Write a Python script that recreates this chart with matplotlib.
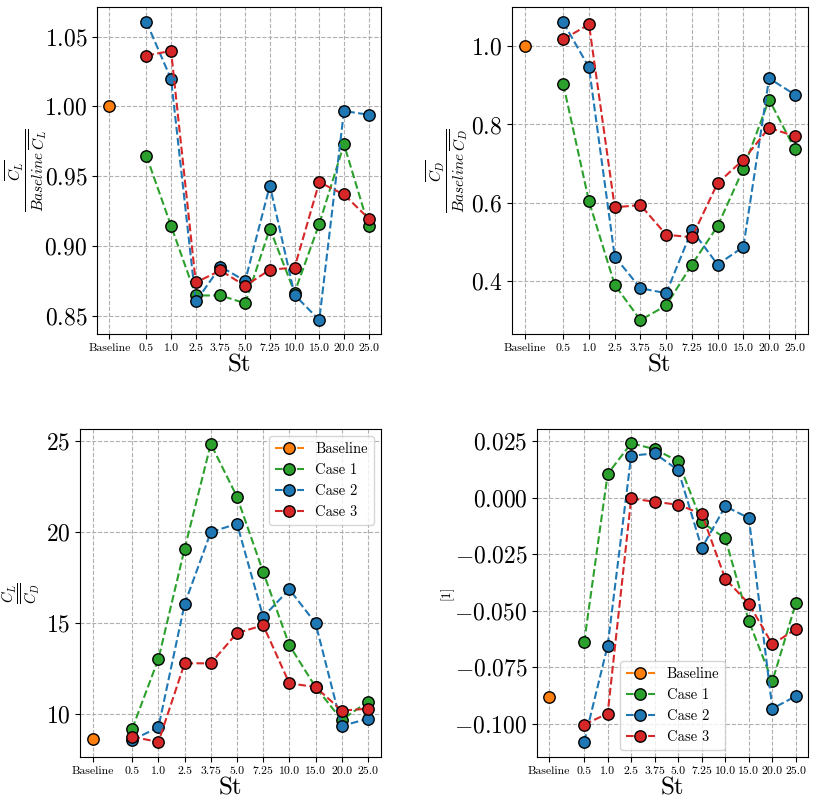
import matplotlib
matplotlib.use("Agg")
import matplotlib.pyplot as plt
import numpy as np

plt.rcParams['font.family'] = 'serif'
plt.rcParams['font.serif'] = ['cmr10']
plt.rcParams['mathtext.fontset'] = 'cm'
plt.rcParams['axes.formatter.use_mathtext'] = True

st_labels = ['Baseline', '0.5', '1.0', '2.5', '3.75', '5.0', '7.25', '10.0', '15.0', '20.0', '25.0']
case_names = ['Case 1', 'Case 2', 'Case 3']
case_colors = ['tab:green', 'tab:blue', 'tab:red']

# CL / baseline CL
cl_base = 1.0
cl_case1 = [0.9646, 0.9144, 0.8646, 0.8646, 0.8590, 0.9125, 0.8667, 0.9159, 0.9729, 0.9142]
cl_case2 = [1.0605, 1.0195, 0.8603, 0.8853, 0.8750, 0.9433, 0.8650, 0.8470, 0.9967, 0.9940]
cl_case3 = [1.0364, 1.0397, 0.8739, 0.8825, 0.8715, 0.8830, 0.8846, 0.9457, 0.9369, 0.9197]

# CD / baseline CD
cd_base = 1.0
cd_case1 = [0.903, 0.6034, 0.3898, 0.2996, 0.337, 0.4417, 0.540, 0.6868, 0.8638, 0.737]
cd_case2 = [1.061, 0.946, 0.462, 0.381, 0.3685, 0.530, 0.4417, 0.4868, 0.918, 0.8766]
cd_case3 = [1.0179, 1.056, 0.588, 0.594, 0.518, 0.5115, 0.650, 0.7098, 0.7915, 0.770]

# CL / CD
ld_base = 8.63
ld_case1 = [9.21, 13.04, 19.09, 24.84, 21.94, 17.81, 13.79, 11.50, 9.69, 10.70]
ld_case2 = [8.59, 9.29, 16.05, 20.00, 20.46, 15.35, 16.86, 15.00, 9.36, 9.76]
ld_case3 = [8.77, 8.48, 12.80, 12.80, 14.46, 14.89, 11.70, 11.50, 10.20, 10.31]

# fourth quantity
q_base = -0.088
q_case1 = [-0.0640, 0.0105, 0.0241, 0.0215, 0.0161, -0.0108, -0.0180, -0.0546, -0.0812, -0.0466]
q_case2 = [-0.1080, -0.0654, 0.0186, 0.0196, 0.0122, -0.0223, -0.0038, -0.0090, -0.0933, -0.0878]
q_case3 = [-0.1004, -0.0955, -0.0003, -0.0018, -0.0031, -0.0072, -0.0359, -0.0469, -0.0649, -0.0581]

x_base = 0.0
x_cases = np.arange(10) + 1.5
x_ticks = np.concatenate([[x_base], x_cases])

fig = plt.figure(figsize=(8.15, 8.01), dpi=100)
ax1 = fig.add_axes([0.119, 0.583, 0.3485, 0.408])
ax2 = fig.add_axes([0.628, 0.583, 0.363, 0.408])
ax3 = fig.add_axes([0.098, 0.055, 0.3695, 0.4094])
ax4 = fig.add_axes([0.659, 0.055, 0.332, 0.4094])

panels = [
    (ax1, cl_base, [cl_case1, cl_case2, cl_case3],
     r'$\dfrac{\overline{C_L}}{Baseline\,\overline{C_L}}$', -0.17, 11, None,
     [0.85, 0.90, 0.95, 1.00, 1.05], '%.2f'),
    (ax2, cd_base, [cd_case1, cd_case2, cd_case3],
     r'$\dfrac{\overline{C_D}}{Baseline\,\overline{C_D}}$', -0.142, 11, None,
     [0.4, 0.6, 0.8, 1.0], '%.1f'),
    (ax3, ld_base, [ld_case1, ld_case2, ld_case3],
     r'$\dfrac{\overline{C_L}}{\overline{C_D}}$', -0.125, 10.5, 'upper right',
     [10, 15, 20, 25], '%d'),
    (ax4, q_base, [q_case1, q_case2, q_case3],
     '[1]', -0.31, 10, 'lower center',
     [-0.1, -0.075, -0.05, -0.025, 0.0, 0.025], '%.3f'),
]

for ax, base, cases, ylab, labx, labsize, legloc, yt, fmt in panels:
    ax.plot([x_base], [base], '--o', color='tab:orange', markersize=8.2,
            markeredgecolor='black', label='Baseline', zorder=3)
    for vals, name, col in zip(cases, case_names, case_colors):
        ax.plot(x_cases, vals, '--o', color=col, markersize=8.2,
                markeredgecolor='black', label=name, zorder=3)
    ax.set_xticks(x_ticks)
    ax.set_xticklabels(st_labels, fontsize=8.5)
    ax.set_xlim(-0.5, 11.0)
    ax.set_yticks(yt)
    ax.set_yticklabels(['$' + (fmt % v) + '$' for v in yt], fontsize=17)
    ax.grid(True, linestyle='--', color='#b0b0b0', linewidth=0.8)
    ax.set_axisbelow(True)
    ax.set_xlabel('St', fontsize=18, labelpad=1)
    ax.set_ylabel(ylab, fontsize=labsize)
    ax.yaxis.set_label_coords(labx, 0.5)
    if legloc:
        ax.legend(loc=legloc, fontsize=10.5)

ax1.set_ylim(0.837, 1.071)
ax2.set_ylim(0.264, 1.10)
ax3.set_ylim(7.66, 25.66)
ax4.set_ylim(-0.1147, 0.0304)

fig.savefig('out.png', dpi=100)
